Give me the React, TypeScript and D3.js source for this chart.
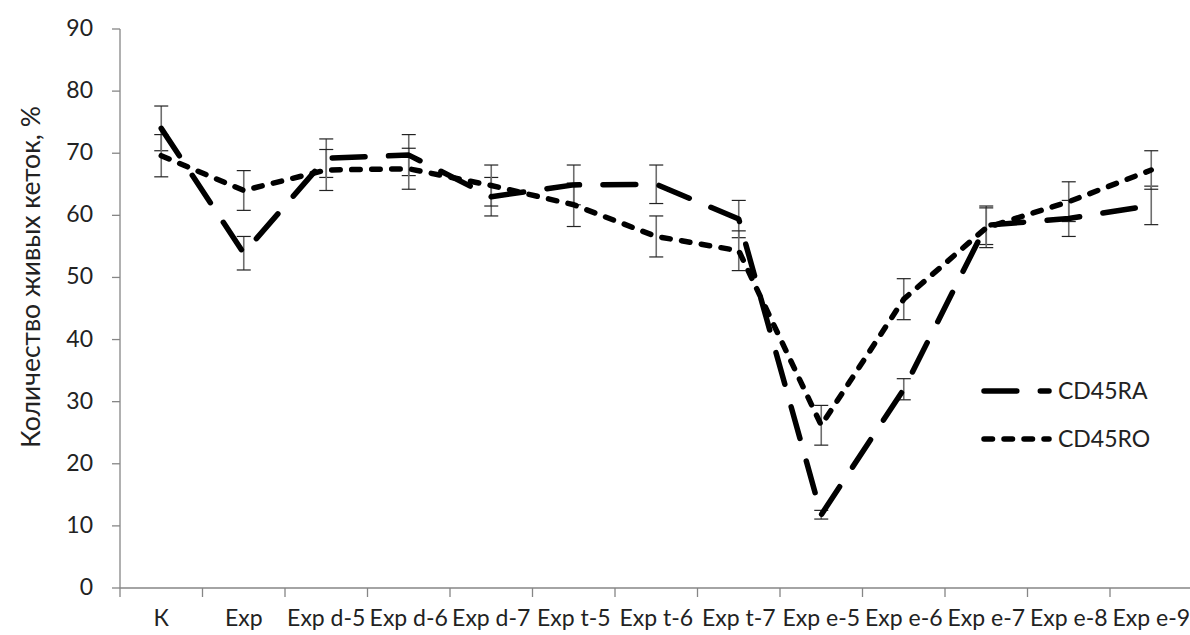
import React from "react";
import * as d3 from "d3";

const categories = ["К", "Exp", "Exp d-5", "Exp d-6", "Exp d-7", "Exp t-5", "Exp t-6", "Exp t-7", "Exp e-5", "Exp e-6", "Exp e-7", "Exp e-8", "Exp e-9"];
const ra = [74.0, 53.9, 69.2, 69.7, 63.0, 64.9, 65.0, 59.4, 11.8, 32.0, 58.4, 59.5, 61.6];
const raErr = [3.6, 2.7, 3.1, 3.3, 3.1, 3.2, 3.1, 3.0, 0.7, 1.7, 3.1, 2.9, 3.1];
const ro = [69.6, 64.0, 67.3, 67.5, 64.8, 61.7, 56.6, 54.3, 26.2, 46.5, 58.0, 62.2, 67.3];
const roErr = [3.4, 3.2, 3.3, 3.3, 3.3, 3.5, 3.3, 3.2, 3.2, 3.3, 3.2, 3.2, 3.1];
const yTicks = [0, 10, 20, 30, 40, 50, 60, 70, 80, 90];
const seriesNames = ["CD45RA", "CD45RO"];

const W = 1190;
const H = 635;
const left = 120;
const right = 1192.5;
const top = 29;
const bottom = 588;

const FONT = "Lato, 'Open Sans', sans-serif";
const AXIS = "#868686";
const TEXT = "#222";
const LW = 5.5;
const dashRA = "32.8 23.5";
const dashRO = "8.5 11.5";

export default function App() {
  const x = d3.scaleBand<string>().domain(categories).range([left, right]);
  const y = d3.scaleLinear().domain([0, 90]).range([bottom, top]);
  const cx = (c: string) => (x(c) as number) + x.bandwidth() / 2;

  const line = d3
    .line<number>()
    .x((_, i) => cx(categories[i]))
    .y((d) => y(d));

  const series = [
    { name: seriesNames[0], vals: ra, err: raErr, dash: dashRA },
    { name: seriesNames[1], vals: ro, err: roErr, dash: dashRO },
  ];

  return (
    <svg width={W} height={H} style={{ position: "absolute", left: 0, top: 0, background: "#fff" }} fontFamily={FONT}>
      {/* y axis */}
      <line x1={left} x2={left} y1={top} y2={bottom + 9} stroke={AXIS} strokeWidth={1.3} />
      {yTicks.map((t) => (
        <g key={t}>
          <line x1={left - 8} x2={left} y1={y(t)} y2={y(t)} stroke={AXIS} strokeWidth={1.3} />
          <text x={93} y={y(t) + 7} textAnchor="end" fontSize={23} fill={TEXT}>
            {t}
          </text>
        </g>
      ))}
      <text transform={`translate(40,277) rotate(-90)`} textAnchor="middle" fontSize={26.5} fill={TEXT}>
        Количество живых кеток, %
      </text>

      {/* x axis */}
      <line x1={left} x2={right} y1={bottom} y2={bottom} stroke={AXIS} strokeWidth={1.3} />
      {categories.map((c, i) => (
        <g key={c}>
          {i > 0 && <line x1={x(c)} x2={x(c)} y1={bottom} y2={bottom + 9} stroke={AXIS} strokeWidth={1.3} />}
          <text x={cx(c)} y={626} textAnchor="middle" fontSize={23} fill={TEXT}>
            {c}
          </text>
        </g>
      ))}

      {/* error bars */}
      {series.map((s) =>
        s.vals.map((v, i) => {
          const px = cx(categories[i]);
          return (
            <g key={s.name + i}>
              <line x1={px} x2={px} y1={y(v + s.err[i])} y2={y(v - s.err[i])} stroke="#6e6e6e" strokeWidth={1.6} />
              <line x1={px - 7} x2={px + 7} y1={y(v + s.err[i])} y2={y(v + s.err[i])} stroke="#222" strokeWidth={1.2} />
              <line x1={px - 7} x2={px + 7} y1={y(v - s.err[i])} y2={y(v - s.err[i])} stroke="#222" strokeWidth={1.2} />
            </g>
          );
        })
      )}

      {/* lines */}
      {series.map((s) => (
        <path
          key={s.name}
          d={line(s.vals) || ""}
          fill="none"
          stroke="#000"
          strokeWidth={LW}
          strokeDasharray={s.dash}
          strokeLinecap="round"
          strokeLinejoin="round"
        />
      ))}

      {/* legend */}
      {series.map((s, i) => {
        const ly = 391 + i * 48;
        return (
          <g key={"lg" + s.name}>
            <line x1={984} x2={1049} y1={ly} y2={ly} stroke="#000" strokeWidth={LW} strokeDasharray={s.dash} strokeLinecap="round" />
            <text x={1058} y={ly + 8} fontSize={23} fill={TEXT}>
              {s.name}
            </text>
          </g>
        );
      })}
    </svg>
  );
}
